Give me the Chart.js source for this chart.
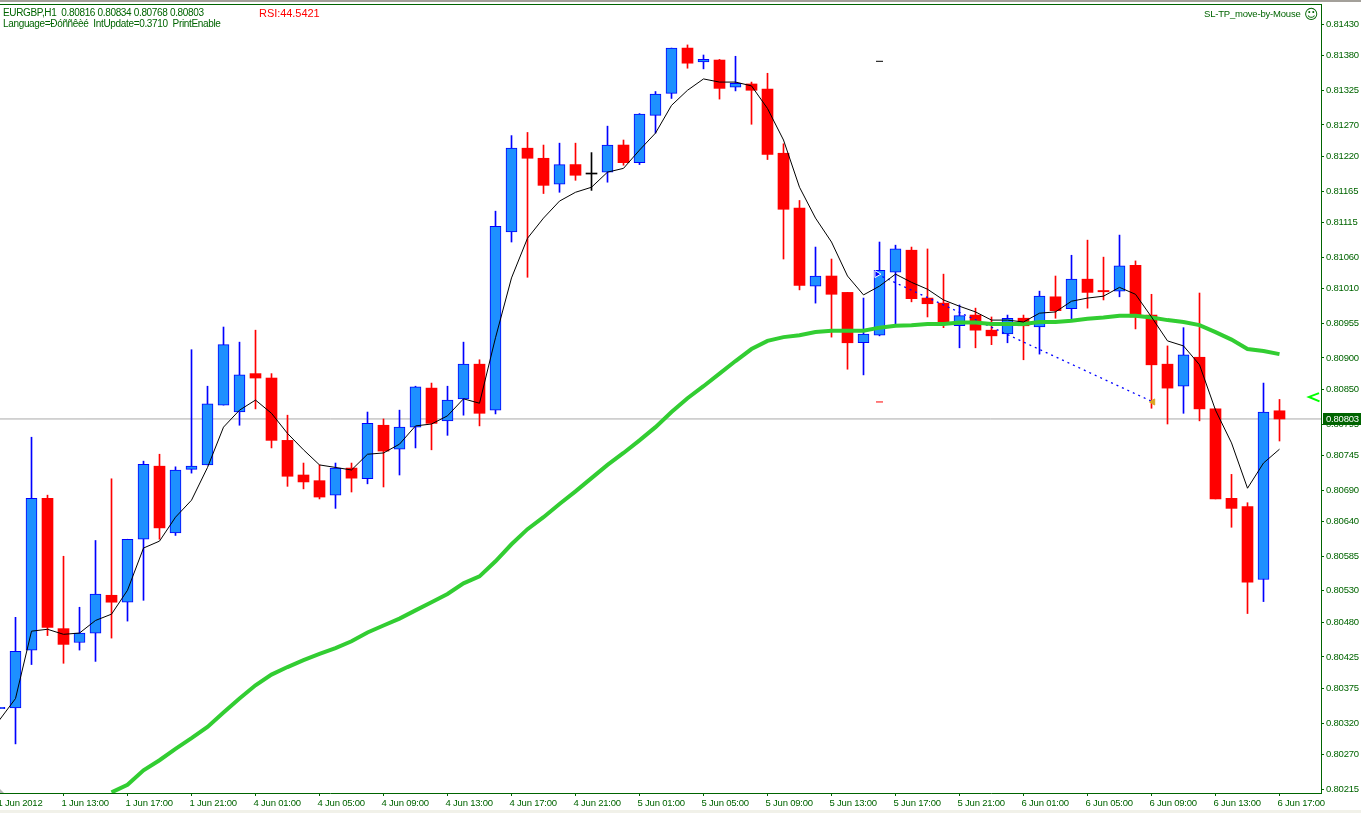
<!DOCTYPE html>
<html>
<head>
<meta charset="utf-8">
<title>EURGBP,H1</title>
<script src="https://cdn.jsdelivr.net/npm/chart.js@4/dist/chart.umd.min.js"></script>
<style>
    html, body { margin: 0; padding: 0; background: #f1f1e9; overflow: hidden; }
    #marco { position: relative; width: 1361px; height: 810px; background: #fff; }
    #franja { position: absolute; left: 0; top: 0; width: 1361px; height: 2px; background: #a3a09a; z-index: 2; }
    canvas { position: absolute; left: 0; top: 0; }
    .txt { position: absolute; font: 10px "Liberation Sans", sans-serif; color: #006400; white-space: pre; z-index: 2; line-height: 11px; letter-spacing: -0.34px; }
</style>
</head>
<body>
<div id="marco">
    <div id="franja"></div>
    <div class="txt" id="info1" style="left:3px; top:7px"></div>
    <div class="txt" id="info2" style="left:3px; top:18px"></div>
    <div class="txt" id="rsi" style="left:259px; top:7px; font-size:11px; color:#ff0000; line-height:13px; letter-spacing:-0.05px"></div>
    <div class="txt" id="ea" style="left:1204px; top:8px; font-size:9.5px; letter-spacing:-0.2px"></div>
    <div class="txt" id="cara" style="left:1304px; top:7px; font:14px 'DejaVu Sans', sans-serif; line-height:14px; letter-spacing:0"></div>
    <canvas id="grafico" width="1361" height="810"></canvas>
</div>
<script>
// --- 1. DATA ---
const infoLine1 = 'EURGBP,H1  0.80816 0.80834 0.80768 0.80803';
const infoLine2 = 'Language=Ðóññêèé  IntUpdate=0.3710  PrintEnable';
const rsiText = 'RSI:44.5421';
const eaText = 'SL-TP_move-by-Mouse';
const eaIcon = '☺';

const xTickLabels = ['1 Jun 2012', '1 Jun 13:00', '1 Jun 17:00', '1 Jun 21:00', '4 Jun 01:00', '4 Jun 05:00', '4 Jun 09:00',
    '4 Jun 13:00', '4 Jun 17:00', '4 Jun 21:00', '5 Jun 01:00', '5 Jun 05:00', '5 Jun 09:00', '5 Jun 13:00', '5 Jun 17:00',
    '5 Jun 21:00', '6 Jun 01:00', '6 Jun 05:00', '6 Jun 09:00', '6 Jun 13:00', '6 Jun 17:00'];
const xTickBars = [0, 4, 8, 12, 16, 20, 24, 28, 32, 36, 40, 44, 48, 52, 56, 60, 64, 68, 72, 76, 80];
const yTickLabels = ['0.81430', '0.81380', '0.81325', '0.81270', '0.81220', '0.81165', '0.81115', '0.81060', '0.81010', '0.80955',
    '0.80900', '0.80850', '0.80795', '0.80745', '0.80690', '0.80640', '0.80585', '0.80530', '0.80480', '0.80425',
    '0.80375', '0.80320', '0.80270', '0.80215'];

const opens = [
    0.80343, 0.80344, 0.80436, 0.80677, 0.80470, 0.80448, 0.80463, 0.80523, 0.80512, 0.80612,
    0.80728, 0.80622, 0.80723, 0.80730, 0.80825, 0.80814, 0.80875, 0.80868, 0.80769, 0.80714,
    0.80705, 0.80682, 0.80725, 0.80708, 0.80793, 0.80755, 0.80790, 0.80852, 0.80800, 0.80835,
    0.80890, 0.80817, 0.81100, 0.81233, 0.81217, 0.81176, 0.81207, 0.81192, 0.81195, 0.81238,
    0.81210, 0.81285, 0.81320, 0.81392, 0.81370, 0.81373, 0.81330, 0.81335, 0.81327, 0.81225,
    0.81138, 0.81014, 0.81030, 0.81004, 0.80924, 0.80936, 0.81036, 0.81071, 0.80995, 0.80987,
    0.80951, 0.80968, 0.80944, 0.80938, 0.80963, 0.80949, 0.80997, 0.80978, 0.81025, 0.81007,
    0.81006, 0.81047, 0.80968, 0.80890, 0.80855, 0.80901, 0.80819, 0.80677, 0.80664, 0.80548,
    0.80816];
const highs = [
    0.80345, 0.80488, 0.80774, 0.80682, 0.80585, 0.80504, 0.80610, 0.80708, 0.80612, 0.80736,
    0.80747, 0.80727, 0.80913, 0.80855, 0.80949, 0.80925, 0.80944, 0.80875, 0.80809, 0.80733,
    0.80730, 0.80733, 0.80733, 0.80814, 0.80803, 0.80817, 0.80855, 0.80860, 0.80855, 0.80925,
    0.80897, 0.81133, 0.81253, 0.81258, 0.81238, 0.81241, 0.81241, 0.81226, 0.81268, 0.81246,
    0.81288, 0.81323, 0.81392, 0.81397, 0.81381, 0.81374, 0.81379, 0.81338, 0.81352, 0.81240,
    0.81150, 0.81076, 0.81057, 0.81004, 0.80995, 0.81084, 0.81079, 0.81076, 0.81073, 0.81033,
    0.80984, 0.80979, 0.80965, 0.80968, 0.80968, 0.81006, 0.81030, 0.81063, 0.81087, 0.81060,
    0.81095, 0.81054, 0.81001, 0.80919, 0.80948, 0.81003, 0.80819, 0.80715, 0.80670, 0.80860,
    0.80834];
const lows = [
    0.80343, 0.80287, 0.80413, 0.80459, 0.80415, 0.80436, 0.80418, 0.80455, 0.80482, 0.80515,
    0.80612, 0.80618, 0.80717, 0.80730, 0.80825, 0.80793, 0.80819, 0.80757, 0.80696, 0.80692,
    0.80676, 0.80661, 0.80687, 0.80700, 0.80695, 0.80714, 0.80757, 0.80754, 0.80777, 0.80809,
    0.80792, 0.80811, 0.81084, 0.81028, 0.81161, 0.81163, 0.81182, 0.81166, 0.81179, 0.81206,
    0.81207, 0.81257, 0.81312, 0.81360, 0.81359, 0.81311, 0.81324, 0.81271, 0.81215, 0.81057,
    0.81008, 0.80987, 0.80933, 0.80882, 0.80873, 0.80935, 0.80952, 0.80989, 0.80965, 0.80948,
    0.80916, 0.80916, 0.80921, 0.80924, 0.80897, 0.80906, 0.80963, 0.80962, 0.80979, 0.80992,
    0.80997, 0.80946, 0.80820, 0.80795, 0.80812, 0.80800, 0.80676, 0.80631, 0.80494, 0.80513,
    0.80768];
const closes = [
    0.80345, 0.80434, 0.80677, 0.80472, 0.80445, 0.80463, 0.80525, 0.80512, 0.80612, 0.80731,
    0.80630, 0.80722, 0.80728, 0.80827, 0.80921, 0.80873, 0.80868, 0.80769, 0.80712, 0.80703,
    0.80679, 0.80725, 0.80709, 0.80796, 0.80752, 0.80790, 0.80854, 0.80796, 0.80833, 0.80890,
    0.80812, 0.81109, 0.81233, 0.81217, 0.81174, 0.81207, 0.81190, 0.81192, 0.81238, 0.81210,
    0.81287, 0.81319, 0.81392, 0.81368, 0.81374, 0.81328, 0.81336, 0.81325, 0.81223, 0.81136,
    0.81015, 0.81030, 0.81001, 0.80924, 0.80938, 0.81039, 0.81073, 0.80994, 0.80986, 0.80955,
    0.80967, 0.80944, 0.80935, 0.80963, 0.80951, 0.80998, 0.80975, 0.81025, 0.81004, 0.81005,
    0.81046, 0.80965, 0.80889, 0.80852, 0.80905, 0.80819, 0.80676, 0.80661, 0.80544, 0.80814,
    0.80803];

const fastMa = [
    0.80325, 0.80359, 0.80466, 0.80469, 0.80461, 0.80463, 0.80483, 0.80493, 0.80531, 0.80598,
    0.80609, 0.80647, 0.80674, 0.80726, 0.80790, 0.80817, 0.80833, 0.80812, 0.80780, 0.80754,
    0.80730, 0.80726, 0.80722, 0.80747, 0.80749, 0.80763, 0.80792, 0.80795, 0.80808, 0.80835,
    0.80828, 0.80932, 0.81027, 0.81090, 0.81122, 0.81149, 0.81163, 0.81171, 0.81195, 0.81201,
    0.81230, 0.81257, 0.81301, 0.81325, 0.81343, 0.81338, 0.81338, 0.81332, 0.81296, 0.81246,
    0.81171, 0.81122, 0.81084, 0.81030, 0.81000, 0.81014, 0.81033, 0.81020, 0.81009, 0.80992,
    0.80982, 0.80973, 0.80960, 0.80960, 0.80957, 0.80971, 0.80973, 0.80990, 0.80995, 0.80998,
    0.81012, 0.81001, 0.80965, 0.80927, 0.80919, 0.80889, 0.80817, 0.80765, 0.80693, 0.80733,
    0.80755];
const slowMa = [
    null, null, null, null, null, null, null, 0.80210, 0.80222, 0.80245,
    0.80261, 0.80279, 0.80296, 0.80314, 0.80337, 0.80359, 0.80380, 0.80397, 0.80409, 0.80420,
    0.80430, 0.80439, 0.80450, 0.80464, 0.80475, 0.80486, 0.80499, 0.80512, 0.80525, 0.80542,
    0.80553, 0.80577, 0.80604, 0.80628, 0.80647, 0.80668, 0.80688, 0.80709, 0.80730, 0.80749,
    0.80769, 0.80790, 0.80814, 0.80836, 0.80855, 0.80875, 0.80895, 0.80914, 0.80927, 0.80933,
    0.80936, 0.80941, 0.80943, 0.80943, 0.80943, 0.80948, 0.80951, 0.80952, 0.80954, 0.80954,
    0.80956, 0.80956, 0.80954, 0.80954, 0.80954, 0.80957, 0.80957, 0.80959, 0.80962, 0.80964,
    0.80967, 0.80967, 0.80964, 0.80960, 0.80957, 0.80952, 0.80941, 0.80929, 0.80914, 0.80911,
    0.80906];

// orden abierta: entrada, salida, stop y objetivo
const orderBars = [54.84, 72.09];
const orderPrices = [0.81033, 0.80830];
const targetBar = [55];
const targetPrice = [0.81371];
const stopPrice = [0.80830];
// flecha verde de precio, a la derecha de la ultima vela
const askBars = [82.47, 81.84, 82.5];
const askPrices = [0.80844, 0.80838, 0.80831];

const lastClose = closes[closes.length - 1];

// --- 2. APOYO ---
const AXIS_GREEN = '#006400';
const X_MIN = 0.03125;
const X_MAX = 82.59375;
const Y_MIN = 0.80209;
const Y_MAX = 0.81462;

function colorVela(i) {
    if (closes[i] > opens[i]) return '#0000ff';
    if (closes[i] < opens[i]) return '#ff0000';
    return '#000000';
}

function puntos(xs, ys) {
    return xs.map((x, i) => ({ x: x, y: ys[i] }));
}

const barras = opens.map((_, i) => i);
const lineColors = barras.map(colorVela);
const bodyColors = barras.map(i => closes[i] > opens[i] ? '#1e90ff' : colorVela(i));
const bodyBorders = barras.map(i => closes[i] > opens[i] ? 1 : 0);

// marco superior, etiqueta del ultimo precio y triangulo gris del borde
const extras = {
    id: 'extras',
    beforeDraw(chart) {
        chart.ctx.letterSpacing = '-0.2px';
    },
    afterDraw(chart) {
        const { ctx, chartArea, scales } = chart;
        ctx.save();
        ctx.fillStyle = AXIS_GREEN;
        ctx.fillRect(0, chartArea.top, chartArea.right, 1);

        ctx.fillStyle = '#b5b5b5';
        ctx.beginPath();
        ctx.moveTo(0, chartArea.bottom);
        ctx.lineTo(0, chartArea.bottom - 4);
        ctx.lineTo(4, chartArea.bottom);
        ctx.fill();

        const y = Math.round(scales.y.getPixelForValue(lastClose));
        ctx.fillStyle = AXIS_GREEN;
        ctx.fillRect(chartArea.right + 2, y - 6, 38, 12);
        ctx.fillStyle = '#ffffff';
        ctx.font = '9.5px "Liberation Sans", sans-serif';
        ctx.textBaseline = 'middle';
        ctx.fillText(lastClose.toFixed(5), chartArea.right + 5, y + 0.5);
        ctx.restore();
    }
};

// --- 3. GRAFICO ---
document.getElementById('info1').textContent = infoLine1;
document.getElementById('info2').textContent = infoLine2;
document.getElementById('rsi').textContent = rsiText;
document.getElementById('ea').textContent = eaText;
document.getElementById('cara').textContent = eaIcon;

new Chart(document.getElementById('grafico'), {
    data: {
        datasets: [
            {
                type: 'line', label: 'Bid', order: 9,
                data: puntos([X_MIN, X_MAX], [lastClose, lastClose]),
                borderColor: '#a9a9a9', borderWidth: 1, pointRadius: 0
            },
            {
                type: 'bar', label: 'High-Low', order: 8, grouped: false,
                data: barras.map(i => ({ x: i, y: [lows[i], highs[i]] })),
                barThickness: 1, backgroundColor: lineColors, borderWidth: 0
            },
            {
                type: 'bar', label: 'Open-Close', order: 7, grouped: false,
                data: barras.map(i => ({ x: i, y: [opens[i], closes[i]] })),
                barThickness: 11, minBarLength: 1, backgroundColor: bodyColors,
                borderColor: lineColors, borderWidth: bodyBorders, borderSkipped: false
            },
            {
                type: 'line', label: 'Order', order: 6,
                data: puntos(orderBars, orderPrices),
                borderColor: '#0000ff', borderWidth: 1.3, borderDash: [2, 4], pointRadius: 0
            },
            {
                type: 'line', label: 'MA slow', order: 5,
                data: puntos(barras, slowMa),
                borderColor: '#32cd32', borderWidth: 4, pointRadius: 0, tension: 0
            },
            {
                type: 'line', label: 'MA fast', order: 4,
                data: puntos(barras, fastMa),
                borderColor: '#000000', borderWidth: 1, pointRadius: 0, tension: 0
            },
            {
                type: 'line', label: 'Open arrow', order: 3, showLine: false,
                data: puntos(orderBars.slice(0, 1), orderPrices.slice(0, 1)),
                pointStyle: 'triangle', rotation: 90, pointRadius: 4,
                pointBackgroundColor: '#0000ff', pointBorderColor: '#ffffff', pointBorderWidth: 1
            },
            {
                type: 'line', label: 'Close arrow', order: 3, showLine: false,
                data: puntos(orderBars.slice(1), orderPrices.slice(1)),
                pointStyle: 'triangle', rotation: -90, pointRadius: 3.5,
                pointBackgroundColor: '#daa520', pointBorderColor: '#daa520'
            },
            {
                type: 'line', label: 'Take profit', order: 2, showLine: false,
                data: puntos(targetBar, targetPrice),
                pointStyle: 'line', pointRadius: 3.5, pointBorderColor: '#000000', pointBorderWidth: 1
            },
            {
                type: 'line', label: 'Stop loss', order: 2, showLine: false,
                data: puntos(targetBar, stopPrice),
                pointStyle: 'line', pointRadius: 3.5, pointBorderColor: '#ff0000', pointBorderWidth: 1
            },
            {
                type: 'line', label: 'Ask', order: 1,
                data: puntos(askBars, askPrices),
                borderColor: '#00ff00', borderWidth: 2, pointRadius: 0
            }
        ]
    },
    options: {
        responsive: false,
        animation: false,
        layout: { autoPadding: false, padding: { top: 4 } },
        plugins: { legend: { display: false }, tooltip: { enabled: false } },
        scales: {
            x: {
                type: 'linear',
                offset: false,
                min: X_MIN,
                max: X_MAX,
                afterFit(scale) {
                    scale.height = 17;
                    scale.paddingLeft = 0;
                    scale.paddingRight = 0;
                },
                afterBuildTicks(scale) { scale.ticks = xTickBars.map(v => ({ value: v })); },
                border: { color: AXIS_GREEN, width: 1 },
                grid: { drawOnChartArea: false, offset: false, color: AXIS_GREEN, tickLength: 3 },
                ticks: {
                    autoSkip: false, maxRotation: 0, align: 'start', padding: 2, labelOffset: -2,
                    color: AXIS_GREEN,
                    font: { family: 'Liberation Sans', size: 9.5 },
                    callback: (v, i) => xTickLabels[i]
                }
            },
            y: {
                type: 'linear',
                position: 'right',
                min: Y_MIN,
                max: Y_MAX,
                afterFit(scale) {
                    scale.width = 40;
                    scale.paddingTop = 0;
                    scale.paddingBottom = 0;
                },
                afterBuildTicks(scale) { scale.ticks = yTickLabels.map(t => ({ value: Number(t) })); },
                border: { color: AXIS_GREEN, width: 1 },
                grid: { drawOnChartArea: false, color: AXIS_GREEN, tickLength: 3 },
                ticks: {
                    autoSkip: false, padding: 2,
                    color: AXIS_GREEN,
                    font: { family: 'Liberation Sans', size: 9.5 },
                    callback: (v, i) => yTickLabels[i]
                }
            }
        }
    },
    plugins: [extras]
});
</script>
</body>
</html>
